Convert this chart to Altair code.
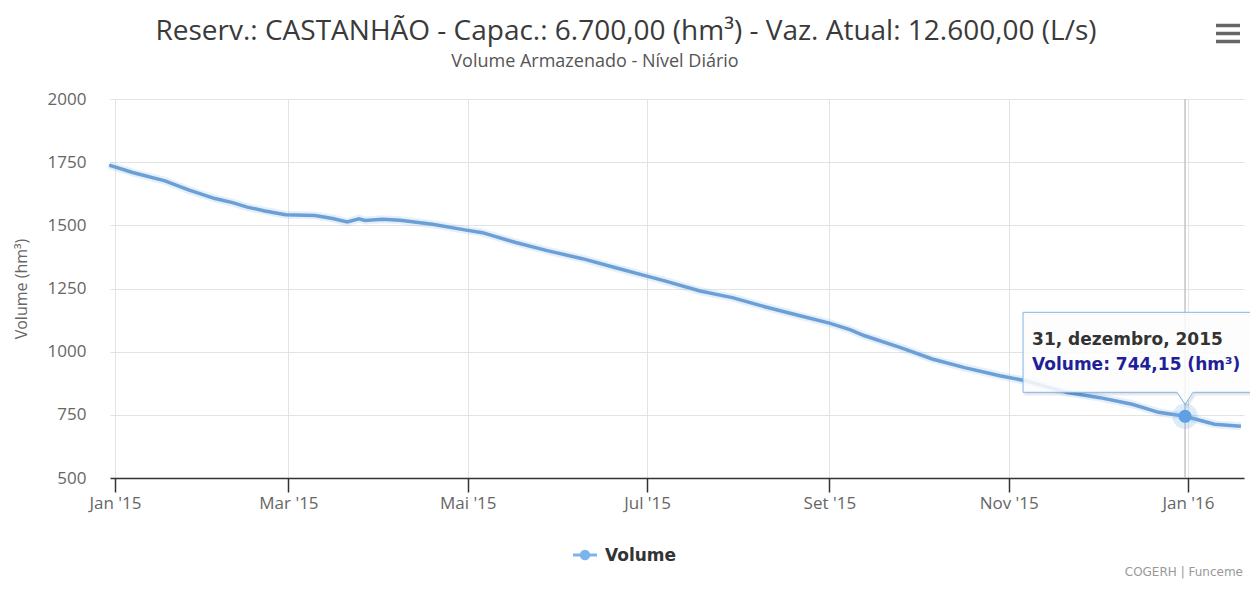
import json
import altair as alt
import pandas as pd

# ---------------- data ----------------
dates = [
    "2014-12-30", "2015-01-07", "2015-01-18", "2015-01-26", "2015-02-04",
    "2015-02-10", "2015-02-15", "2015-02-21", "2015-02-28", "2015-03-10",
    "2015-03-16", "2015-03-21", "2015-03-25", "2015-03-27", "2015-04-02",
    "2015-04-08", "2015-04-19", "2015-04-30", "2015-05-06", "2015-05-17",
    "2015-05-28", "2015-06-09", "2015-06-20", "2015-06-30", "2015-07-07",
    "2015-07-19", "2015-07-30", "2015-08-10", "2015-08-22", "2015-09-01",
    "2015-09-08", "2015-09-13", "2015-09-25", "2015-10-06", "2015-10-17",
    "2015-10-29", "2015-11-07", "2015-11-21", "2015-12-02", "2015-12-13",
    "2015-12-22", "2015-12-31", "2016-01-10", "2016-01-19",
]
volumes = [
    1738, 1709, 1676, 1640, 1606,
    1590, 1572, 1557, 1542, 1539,
    1527, 1513, 1526, 1519, 1524,
    1520, 1504, 1482, 1471, 1433,
    1400, 1368, 1333, 1302, 1280,
    1240, 1214, 1178, 1142, 1113,
    1087, 1063, 1017, 971, 937,
    905, 884, 838, 818, 792,
    760, 744.15, 713, 705,
]

series_name = "Volume"
title_text = "Reserv.: CASTANHÃO - Capac.: 6.700,00 (hm³) - Vaz. Atual: 12.600,00 (L/s)"
subtitle_text = "Volume Armazenado - Nível Diário"
credits_text = "COGERH | Funceme"
y_title = "Volume (hm³)"
y_ticks = [500, 750, 1000, 1250, 1500, 1750, 2000]
x_tick_dates = ["2015-01-01", "2015-03-01", "2015-05-01", "2015-07-01",
                "2015-09-01", "2015-11-01", "2016-01-01"]
x_tick_labels = ["Jan '15", "Mar '15", "Mai '15", "Jul '15", "Set '15", "Nov '15", "Jan '16"]
tooltip_date = "2015-12-31"
tooltip_header = "31, dezembro, 2015"
tooltip_value = "Volume: 744,15 (hm³)"

# ---------------- layout ----------------
W, H = 1134, 379
LINE_COLOR = "#6b9fd6"
SERIES_COLOR = "#7cb5ec"

df = pd.DataFrame({"date": [d + "T00:00:00" for d in dates], "volume": volumes})
hi = dates.index(tooltip_date)
hl = pd.DataFrame({
    "date": [tooltip_date + "T00:00:00"],
    "volume": [volumes[hi]],
    "header": [tooltip_header],
    "value": [tooltip_value],
})


def dt(s, h=0, mi=0):
    y, m, d = (int(p) for p in s.split("-"))
    return alt.DateTime(year=y, month=m, date=d, hours=h, minutes=mi)


label_expr = (
    f"{json.dumps(x_tick_labels)}"
    f"[indexof({json.dumps(x_tick_dates)}, timeFormat(datum.value, '%Y-%m-%d'))]"
)

x_enc = alt.X(
    "date:T",
    scale=alt.Scale(domain=[dt("2014-12-30", 7, 12), dt("2016-01-20", 1, 12)]),
    axis=alt.Axis(
        values=[dt(d) for d in x_tick_dates],
        labelExpr=label_expr,
        title=None,
        grid=True,
        gridColor="#e3e3e3",
        gridWidth=1,
        domainColor="#333333",
        domainWidth=1.5,
        tickColor="#333333",
        tickWidth=1.5,
        tickSize=14,
        labelPadding=3,
        labelFont="Open Sans",
        labelFontSize=17,
        labelColor="#666666",
        labelOverlap=False,
        labelFlush=False,
    ),
)
y_enc = alt.Y(
    "volume:Q",
    scale=alt.Scale(domain=[500, 2000], nice=False, zero=False),
    axis=alt.Axis(
        values=y_ticks,
        format="d",
        grid=True,
        gridColor="#e3e3e3",
        gridWidth=1,
        domain=False,
        ticks=False,
        labelPadding=24,
        labelFont="Open Sans",
        labelFontSize=17,
        labelColor="#666666",
        title=y_title,
        titleFont="Open Sans",
        titleFontSize=16,
        titleFontWeight="normal",
        titleColor="#666666",
        titleX=-89,
        titleY=H / 2,
        titleAngle=270,
        titleAlign="center",
        titleBaseline="middle",
    ),
)

base = alt.Chart(df).encode(x=x_enc, y=y_enc)
glow = base.mark_line(color=SERIES_COLOR, strokeWidth=8, opacity=0.2)
line = base.mark_line(color=LINE_COLOR, strokeWidth=3.5)

hbase = alt.Chart(hl).encode(x=x_enc, y=y_enc)
crosshair = alt.Chart(hl).mark_rule(color="#c4c4c4", strokeWidth=1.5).encode(
    x=x_enc, y=alt.value(0), y2=alt.value(H)
)
halo = hbase.mark_circle(size=650, color=SERIES_COLOR, opacity=0.25)
marker = hbase.mark_circle(size=170, color="#5f9fe3", opacity=1)

box_path = ("M-1.62,-1.04L0.80,-1.04L0.80,-0.24L0.08,-0.24L0,-0.12"
            "L-0.08,-0.24L-1.62,-0.24Z")
shadow_path = ("M-1.60,-1.02L0.82,-1.02L0.82,-0.22L0.10,-0.22L0.02,-0.10"
               "L-0.06,-0.22L-1.60,-0.22Z")
tip_shadow = hbase.mark_point(
    shape=shadow_path, size=40000, filled=True, fill="#000000", fillOpacity=0.06,
    stroke="#000000", strokeOpacity=0.06, strokeWidth=3, opacity=1,
)
tip_box = hbase.mark_point(
    shape=box_path, size=40000, filled=True, fill="#ffffff", fillOpacity=0.85,
    stroke=SERIES_COLOR, strokeWidth=1, opacity=1,
)
tip_head = hbase.mark_text(
    align="left", baseline="alphabetic", dx=-153, dy=-71,
    font="DejaVu Sans", fontWeight="bold", fontSize=17, color="#333333",
).encode(text="header:N")
tip_val = hbase.mark_text(
    align="left", baseline="alphabetic", dx=-153, dy=-46,
    font="DejaVu Sans", fontWeight="bold", fontSize=17, color="#1f1f9a",
).encode(text="value:N")


def text_layer(txt, x, y, **kw):
    return alt.Chart(pd.DataFrame({"t": [txt]})).mark_text(**kw).encode(
        text="t:N", x=alt.value(x), y=alt.value(y)
    )


title = text_layer(title_text, 516, -59, align="center", baseline="alphabetic",
                   font="Open Sans", fontSize=28, color="#3a3a3a")
subtitle = text_layer(subtitle_text, 485, -32, align="center", baseline="alphabetic",
                      font="Open Sans", fontSize=18, color="#555555")
credits = text_layer(credits_text, 1133, 477, align="right", baseline="alphabetic",
                     font="DejaVu Sans", fontSize=12, color="#999999")
legend_text = text_layer(series_name, 495, 462, align="left", baseline="alphabetic",
                         font="DejaVu Sans", fontWeight="bold", fontSize=17, color="#333333")

one = pd.DataFrame({"k": [0]})
legend_line = alt.Chart(one).mark_rule(color=SERIES_COLOR, strokeWidth=3).encode(
    x=alt.value(463), x2=alt.value(487), y=alt.value(456)
)
legend_dot = alt.Chart(one).mark_circle(size=110, color=SERIES_COLOR, opacity=1).encode(
    x=alt.value(475), y=alt.value(456)
)

menu = [
    alt.Chart(one).mark_rule(color="#666666", strokeWidth=3.5).encode(
        x=alt.value(1106), x2=alt.value(1130), y=alt.value(yy)
    )
    for yy in (-73.5, -65.5, -57.5)
]

chart = alt.layer(
    glow, line, crosshair, halo, marker, tip_shadow, tip_box, tip_head, tip_val,
    title, subtitle, credits, legend_line, legend_dot, legend_text, *menu,
).properties(
    width=W,
    height=H,
    autosize=alt.AutoSizeParams(type="none"),
    padding={"left": 102, "top": 91, "right": 6, "bottom": 103},
    background="#ffffff",
).configure_view(stroke=None)

chart.save("out.html", embed_options={"renderer": "svg", "actions": False})
